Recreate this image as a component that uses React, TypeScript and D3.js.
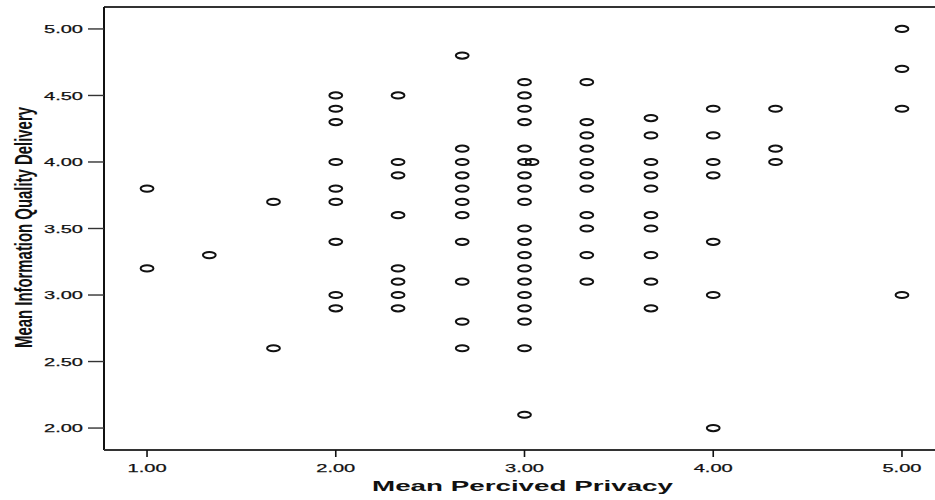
import React from "react";
import * as d3 from "d3";

// Mean perceived privacy (x) levels and the information-quality scores observed at each level
const privacyLevels = [1.0, 1.33, 1.67, 2.0, 2.33, 2.67, 3.0, 3.04, 3.33, 3.67, 4.0, 4.33, 5.0];
const qualityAtLevel = [
  [3.8, 3.2],
  [3.3],
  [3.7, 2.6],
  [4.5, 4.4, 4.3, 4.0, 3.8, 3.7, 3.4, 3.0, 2.9],
  [4.5, 4.0, 3.9, 3.6, 3.2, 3.1, 3.0, 2.9],
  [4.8, 4.1, 4.0, 3.9, 3.8, 3.7, 3.6, 3.4, 3.1, 2.8, 2.6],
  [4.6, 4.5, 4.4, 4.3, 4.1, 4.0, 3.9, 3.8, 3.7, 3.5, 3.4, 3.3, 3.2, 3.1, 3.0, 2.9, 2.8, 2.6, 2.1],
  [4.0],
  [4.6, 4.3, 4.2, 4.1, 4.0, 3.9, 3.8, 3.6, 3.5, 3.3, 3.1],
  [4.33, 4.2, 4.0, 3.9, 3.8, 3.6, 3.5, 3.3, 3.1, 2.9],
  [4.4, 4.2, 4.0, 3.9, 3.4, 3.0, 2.0],
  [4.4, 4.1, 4.0],
  [5.0, 4.7, 4.4, 3.0],
];
const xTicks = [1, 2, 3, 4, 5];
const yTicks = [2, 2.5, 3, 3.5, 4, 4.5, 5];
const xTitle = "Mean Percived Privacy";
const yTitle = "Mean Information Quality Delivery";

const W = 935;
const H = 500;
const plot = { left: 104, right: 935, top: 7, bottom: 450 };
const FONT = "'Liberation Sans', Arial, Helvetica, sans-serif";
const INK = "#111";

export default function App() {
  const x = d3.scaleLinear().domain([0.772, 5.175]).range([plot.left, plot.right]);
  const y = d3.scaleLinear().domain([1.835, 5.165]).range([plot.bottom, plot.top]);

  const points = privacyLevels.flatMap((p, i) =>
    qualityAtLevel[i].map((q) => ({ p, q }))
  );

  return (
    <svg
      width={W}
      height={H}
      style={{ position: "absolute", left: 0, top: 0, background: "#fff" }}
    >
      {/* frame: top edge, left axis, bottom axis */}
      <line x1={plot.left} x2={plot.right} y1={plot.top} y2={plot.top} stroke="#333" strokeWidth={1.8} />
      <line x1={plot.left} x2={plot.left} y1={plot.top} y2={plot.bottom} stroke={INK} strokeWidth={2} />
      <line x1={plot.left} x2={plot.right} y1={plot.bottom} y2={plot.bottom} stroke="#333" strokeWidth={1.8} />

      {/* y axis ticks and labels */}
      {yTicks.map((t) => (
        <g key={"y" + t}>
          <line x1={88} x2={plot.left} y1={y(t)} y2={y(t)} stroke="#333" strokeWidth={1.4} />
          <text
            x={83}
            y={y(t) + 4.2}
            textAnchor="end"
            fontFamily={FONT}
            fontSize={11.5}
            fill={INK}
            stroke={INK}
            strokeWidth={0.25}
            textLength={39}
            lengthAdjust="spacingAndGlyphs"
          >
            {d3.format(".2f")(t)}
          </text>
        </g>
      ))}

      {/* x axis ticks and labels */}
      {xTicks.map((t) => (
        <g key={"x" + t}>
          <line x1={x(t)} x2={x(t)} y1={plot.bottom} y2={plot.bottom + 7} stroke={INK} strokeWidth={1.6} />
          <text
            x={x(t) - 19.5}
            y={471.5}
            fontFamily={FONT}
            fontSize={11.5}
            fill={INK}
            stroke={INK}
            strokeWidth={0.25}
            textLength={39}
            lengthAdjust="spacingAndGlyphs"
          >
            {d3.format(".2f")(t)}
          </text>
        </g>
      ))}

      {/* axis titles */}
      <text
        x={372}
        y={491}
        fontFamily={FONT}
        fontWeight="bold"
        fontSize={15.5}
        fill={INK}
        textLength={301}
        lengthAdjust="spacingAndGlyphs"
      >
        {xTitle}
      </text>
      <text
        transform={`translate(32, 348) rotate(-90)`}
        fontFamily={FONT}
        fontWeight="bold"
        fontSize={23}
        fill={INK}
        textLength={241}
        lengthAdjust="spacingAndGlyphs"
      >
        {yTitle}
      </text>

      {/* observations */}
      {points.map((d, i) => (
        <ellipse
          key={i}
          cx={x(d.p)}
          cy={y(d.q)}
          rx={6.4}
          ry={3.1}
          fill="none"
          stroke={INK}
          strokeWidth={2}
        />
      ))}
    </svg>
  );
}
